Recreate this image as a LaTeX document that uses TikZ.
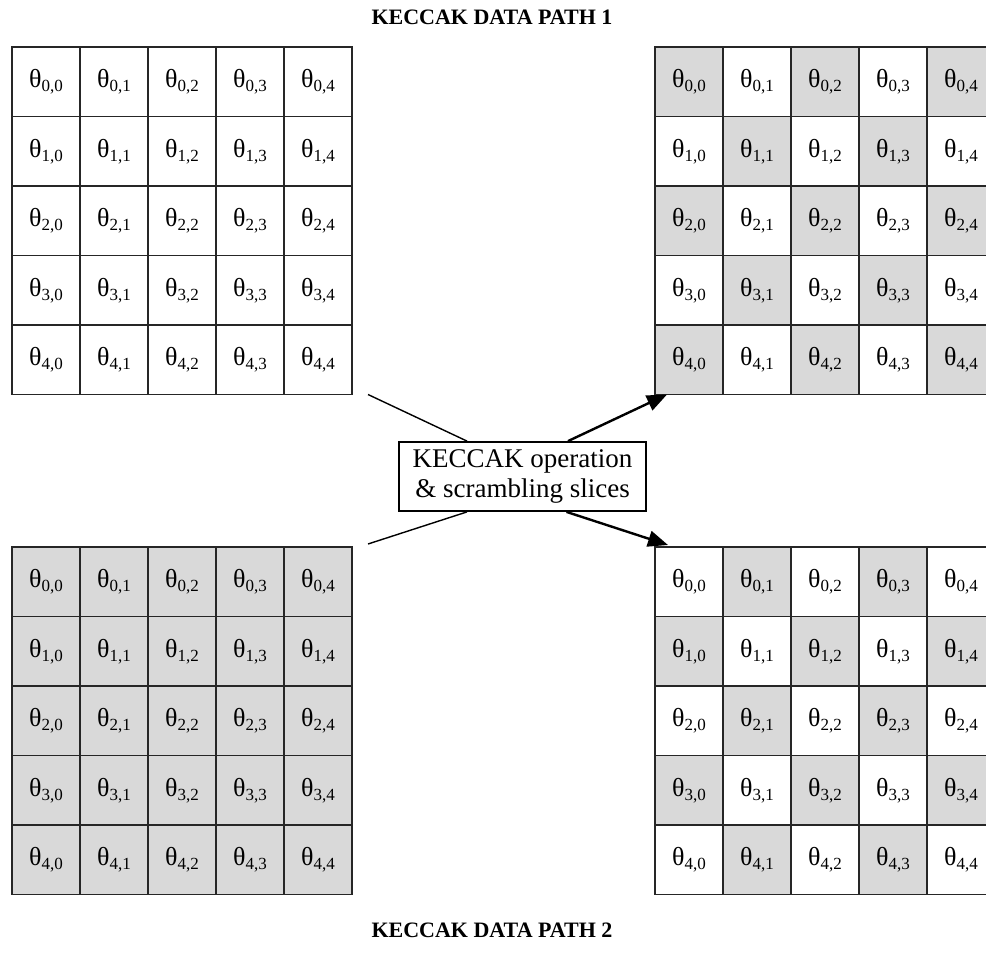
\documentclass[tikz,border=0pt]{standalone}
\usepackage{fontspec}
\setmainfont{Liberation Serif}
\usetikzlibrary{arrows.meta,calc}

% one theta entry with its two indices
\newcommand\thcell[2]{{\fontsize{26}{26}\selectfont θ}\raisebox{-4pt}{\fontsize{17}{17}\selectfont #1,#2}}

\tikzset{
  x=1pt, y=-1pt,
  cell/.style={draw=black!85, line width=1.2pt, minimum width=68pt,
    minimum height=69.5pt, inner sep=0pt, outer sep=0pt, anchor=north west},
  greycell/.style={fill=black!15},
  whitecell/.style={fill=white},
  title/.style={font=\bfseries\fontsize{22}{22}\selectfont},
  opbox/.style={draw, line width=1.8pt, minimum width=247pt, minimum height=69pt,
    align=center, inner sep=0pt, font=\fontsize{27}{30}\selectfont},
  feed/.style={line width=1.4pt},
  outarrow/.style={line width=2.4pt, -{Triangle[length=20pt,width=16pt]}}
}

\begin{document}
\begin{tikzpicture}
\useasboundingbox (0,0) rectangle (986,953);
\clip (0,0) rectangle (986,953);

% titles
\node[title] (title1) at (492,17) {KECCAK DATA PATH 1};
\node[title] (title2) at (492,930) {KECCAK DATA PATH 2};

% the four 5x5 slices
\foreach \i in {0,...,4}{
  \foreach \j in {0,...,4}{
    \pgfmathtruncatemacro\s{\i+\j}
    % data path 1, input: all white
    \node[cell, whitecell] (tl-\i-\j) at ({12+68*\j},{47+69.5*\i}) {\thcell{\i}{\j}};
    % data path 2, input: all grey
    \node[cell, greycell] (bl-\i-\j) at ({12+68*\j},{547+69.5*\i}) {\thcell{\i}{\j}};
    \ifodd\s
      \node[cell, whitecell] (tr-\i-\j) at ({655+68*\j},{47+69.5*\i}) {\thcell{\i}{\j}};
      \node[cell, greycell] (br-\i-\j) at ({655+68*\j},{547+69.5*\i}) {\thcell{\i}{\j}};
    \else
      \node[cell, greycell] (tr-\i-\j) at ({655+68*\j},{47+69.5*\i}) {\thcell{\i}{\j}};
      \node[cell, whitecell] (br-\i-\j) at ({655+68*\j},{547+69.5*\i}) {\thcell{\i}{\j}};
    \fi
  }
}

% central operation
\node[opbox] (op) at (522.5,476.5) {KECCAK operation\\\& scrambling slices};

% inputs into the operation
\coordinate (in1) at ($(tl-4-4.south east)+(16,0)$);
\coordinate (in2) at ($(bl-0-4.north east)+(16,-3)$);
\draw[feed] (in1) -- ($(op.north)+(-55.5,0)$);
\draw[feed] (in2) -- ($(op.south)+(-55.5,0)$);

% outputs to the scrambled slices
\coordinate (out1) at ($(tr-4-0.south west)+(12,0)$);
\coordinate (out2) at ($(br-0-0.north west)+(13,-2)$);
\draw[outarrow] ($(op.north)+(45.5,0)$) -- (out1);
\draw[outarrow] ($(op.south)+(44,0)$) -- (out2);
\end{tikzpicture}
\end{document}
